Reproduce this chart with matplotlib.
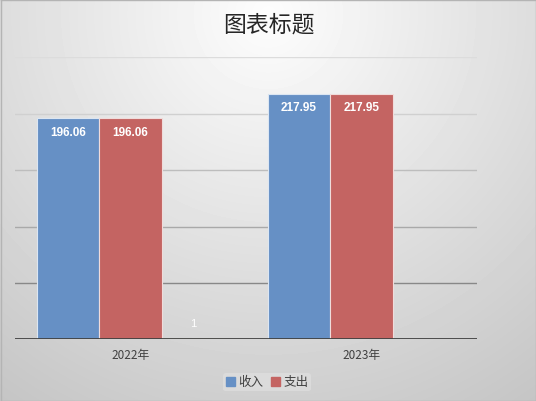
import numpy as np
import matplotlib
matplotlib.use('Agg')
import matplotlib.pyplot as plt
from matplotlib.patches import Patch

plt.rcParams['font.family'] = ['Noto Sans CJK SC', 'DejaVu Sans']

categories = ['2022年', '2023年']
income = [196.06, 217.95]
expense = [196.06, 217.95]
third = [1, np.nan]
yticks = [0, 50, 100, 150, 200, 250]

W, H = 536, 402
fig = plt.figure(figsize=(W / 100, H / 100), dpi=100)

# background radial gradient
bg = fig.add_axes([0, 0, 1, 1], zorder=-10)
yy, xx = np.mgrid[0:H, 0:W]
dist = np.sqrt((xx - 268) ** 2 + (yy - 15) ** 2)
shade = np.clip(253 - 0.12 * dist, 190, 255) / 255.0
bg.imshow(shade, cmap='gray', vmin=0, vmax=1, extent=[0, W, H, 0], aspect='auto')
bg.plot([0.5, W - 0.5, W - 0.5, 0.5, 0.5], [0.5, 0.5, H - 0.5, H - 0.5, 0.5],
        color='#b4b4b4', lw=1)
bg.set_xlim(0, W)
bg.set_ylim(H, 0)
bg.axis('off')

ax = fig.add_axes([15 / W, 1 - 340.3 / H, 462 / W, (340.3 - 58.4) / H])
ax.set_facecolor('none')

x = np.arange(len(categories))
w = 0.271
b1 = ax.bar(x - w, income, w, color='#6690c5', edgecolor='#dce6f2', linewidth=0.8)
b2 = ax.bar(x, expense, w, color='#c46462', edgecolor='#f0dcdb', linewidth=0.8)
b3 = ax.bar(x + w, third, w, color='#d4dab0', edgecolor='#e8ecd0', linewidth=0.5)

for bars, vals in ((b1, income), (b2, expense)):
    for r, v in zip(bars, vals):
        ax.annotate(f'{v:.2f}', (r.get_x() + r.get_width() / 2, v),
                    xytext=(0, -10), textcoords='offset points',
                    ha='center', va='center', color='white', fontsize=8.5,
                    fontweight='bold', family='Liberation Sans')
for r, v in zip(b3, third):
    if not np.isnan(v):
        ax.annotate(f'{v:g}', (r.get_x() + r.get_width() / 2, v),
                    xytext=(0, 11), textcoords='offset points',
                    ha='center', va='center', color='white', fontsize=8,
                    family='Liberation Sans')

grid_colors = ['#888888', '#a9a9a9', '#bdbdbd', '#d0d0d0', '#dcdcdc']
for yv, c in zip(yticks[1:], grid_colors):
    ax.axhline(yv, color=c, lw=1, zorder=0)
ax.axhline(0, color='#404040', lw=2, zorder=3)

ax.set_xlim(-0.5, 1.5)
ax.set_ylim(0, 250)
ax.set_yticks([])
ax.set_xticks(x)
ax.set_xticklabels(categories, fontsize=8.5, color='#404040')
ax.tick_params(axis='x', length=0, pad=6)
for s in ax.spines.values():
    s.set_visible(False)

fig.text(268.5 / W, 1 - 25 / H, '图表标题', ha='center', va='center',
         fontsize=16.5, color='#262626')

handles = [Patch(color='#6690c5', label='收入'), Patch(color='#c46462', label='支出')]
leg = fig.legend(handles=handles, loc='center', bbox_to_anchor=(267 / W, 1 - 383 / H),
                 ncol=2, fontsize=9, frameon=True, handlelength=0.7, handleheight=0.7,
                 handletextpad=0.3, columnspacing=0.6, borderpad=0.2)
leg.get_frame().set_facecolor('#e2e2e2')
leg.get_frame().set_edgecolor('none')
leg.get_frame().set_alpha(0.6)
for t in leg.get_texts():
    t.set_color('#404040')

fig.savefig('out.png', dpi=100)
